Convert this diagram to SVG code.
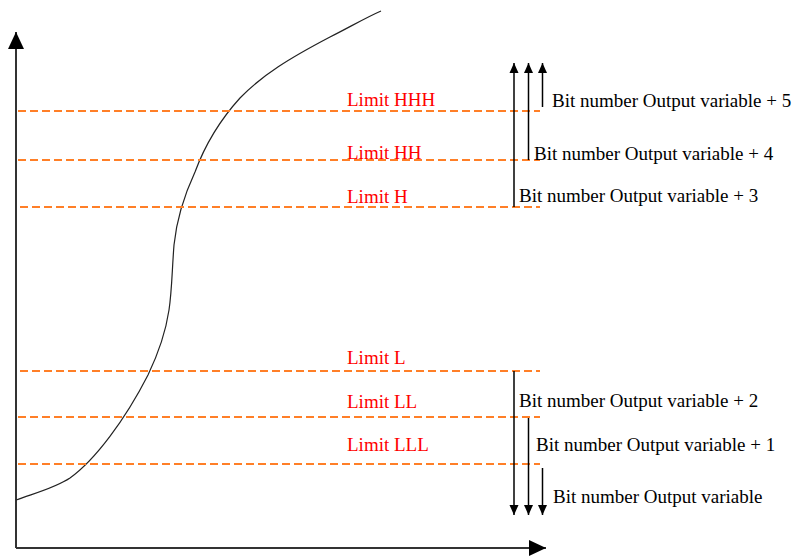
<svg xmlns="http://www.w3.org/2000/svg" width="801" height="556" viewBox="0 0 801 556">
<style>
.lim{stroke:#FF7F27;stroke-width:2;stroke-dasharray:8,4;fill:none}
.lbl{font-family:"Liberation Serif","Times New Roman",serif;font-size:19px;fill:#FF0000}
.bit{font-family:"Liberation Serif","Times New Roman",serif;font-size:19px;fill:#000}
.ax{stroke:#333;stroke-width:2;fill:none}
.arr{stroke:#000;stroke-width:1.5;fill:none}
</style>
<defs>
<marker id="big" markerUnits="userSpaceOnUse" markerWidth="18" markerHeight="18" refX="17" refY="8" orient="auto" viewBox="0 0 18 16">
<path d="M0,0 L17,8 L0,16 Z" fill="#000"/>
</marker>
<marker id="sm" markerUnits="userSpaceOnUse" markerWidth="10" markerHeight="10" refX="10" refY="4.5" orient="auto" viewBox="0 0 10 9">
<path d="M0,0 L10,4.5 L0,9 Z" fill="#000"/>
</marker>
</defs>
<rect width="801" height="556" fill="#fff"/>
<g id="axes">
<line class="ax" x1="16" y1="548" x2="16" y2="32" marker-end="url(#big)"/>
<line class="ax" x1="16" y1="548" x2="546" y2="548" marker-end="url(#big)"/>
</g>
<g id="curve">
<path d="M16,500 C35,493 55,488 70,478 C95,460 125,420 148,375 C160,350 166,330 169,310 C172,290 172,270 174,245 C176,225 182,200 195,172 C205,145 220,120 240,98 C262,75 290,58 330,37 C350,27 365,18 381,11" fill="none" stroke="#222" stroke-width="1.2"/>
</g>
<g id="limits">
<line class="lim" x1="18" y1="111" x2="540" y2="111"/>
<line class="lim" x1="18" y1="160" x2="540" y2="160"/>
<line class="lim" x1="20" y1="207" x2="540" y2="207"/>
<line class="lim" x1="20" y1="371" x2="540" y2="371"/>
<line class="lim" x1="18" y1="417" x2="540" y2="417"/>
<line class="lim" x1="18" y1="464" x2="540" y2="464"/>
</g>
<g id="limit-labels">
<text class="lbl" x="347" y="106">Limit HHH</text>
<text class="lbl" x="347" y="159">Limit HH</text>
<text class="lbl" x="347" y="203">Limit H</text>
<text class="lbl" x="347" y="364">Limit L</text>
<text class="lbl" x="347" y="408">Limit LL</text>
<text class="lbl" x="347" y="451">Limit LLL</text>
</g>
<g id="connectors">
<line class="arr" x1="514" y1="207" x2="514" y2="63" marker-end="url(#sm)"/>
<line class="arr" x1="528.5" y1="160" x2="528.5" y2="63" marker-end="url(#sm)"/>
<line class="arr" x1="542.5" y1="107" x2="542.5" y2="63" marker-end="url(#sm)"/>
<line class="arr" x1="514" y1="371" x2="514" y2="515" marker-end="url(#sm)"/>
<line class="arr" x1="528.5" y1="418" x2="528.5" y2="515" marker-end="url(#sm)"/>
<line class="arr" x1="542.5" y1="468" x2="542.5" y2="515" marker-end="url(#sm)"/>
</g>
<g id="bit-labels">
<text class="bit" x="552" y="107">Bit number Output variable + 5</text>
<text class="bit" x="534" y="160">Bit number Output variable + 4</text>
<text class="bit" x="519" y="202">Bit number Output variable + 3</text>
<text class="bit" x="519" y="407">Bit number Output variable + 2</text>
<text class="bit" x="536" y="451">Bit number Output variable + 1</text>
<text class="bit" x="553" y="503">Bit number Output variable</text>
</g>
</svg>
